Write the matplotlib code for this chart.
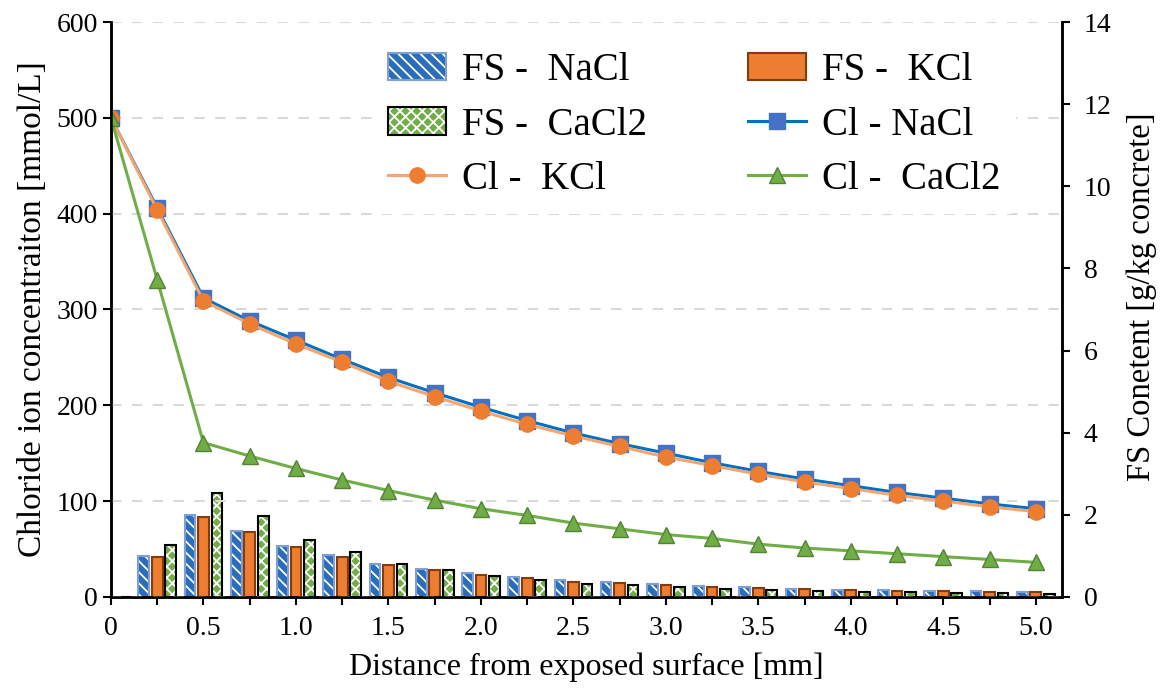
"""
Chloride ion profiles and FS content vs depth
"""

import numpy as np
import matplotlib
matplotlib.use("Agg")
import matplotlib.pyplot as plt
from matplotlib.legend_handler import HandlerTuple

plt.rcParams['font.family'] = ['Liberation Serif', 'DejaVu Serif']
plt.rcParams['hatch.linewidth'] = 1.3

# depth [mm]
depth = [0, 0.25, 0.5, 0.75, 1.0, 1.25, 1.5, 1.75, 2.0, 2.25, 2.5,
         2.75, 3.0, 3.25, 3.5, 3.75, 4.0, 4.25, 4.5, 4.75, 5.0]

# chloride ion concentration [mmol/L]
cl_nacl = [500, 406, 312, 288, 268, 248, 229, 213, 198, 184, 171,
           160, 150, 140, 131, 123, 116, 109, 103, 97, 92]
cl_kcl = [500, 404, 309, 285, 264, 245, 225, 209, 194, 180, 168,
          157, 146, 137, 128, 120, 113, 106, 100, 94, 89]
cl_cacl2 = [500, 331, 161, 147, 134, 122, 111, 101, 92, 85, 77,
            71, 65, 61, 55, 51, 48, 45, 42, 39, 36]

# FS content [g/kg concrete]
fs_nacl = [0, 1.00, 2.00, 1.61, 1.24, 1.02, 0.80, 0.68, 0.58, 0.48, 0.40,
           0.35, 0.31, 0.27, 0.23, 0.19, 0.17, 0.16, 0.15, 0.14, 0.13]
fs_kcl = [0, 0.98, 1.94, 1.58, 1.21, 0.98, 0.78, 0.66, 0.54, 0.45, 0.37,
          0.33, 0.28, 0.24, 0.21, 0.19, 0.16, 0.15, 0.14, 0.13, 0.12]
fs_cacl2 = [0, 1.27, 2.52, 1.96, 1.39, 1.10, 0.80, 0.66, 0.51, 0.41, 0.32,
            0.28, 0.23, 0.19, 0.17, 0.15, 0.12, 0.11, 0.10, 0.09, 0.08]

x_labels = ["0", "0.5", "1.0", "1.5", "2.0", "2.5", "3.0", "3.5", "4.0", "4.5", "5.0"]

x = np.array(depth)
bw = 0.058
off = 0.073

fig = plt.figure(figsize=(11.68, 6.9), dpi=100)
ax = fig.add_axes([0.095, 0.135, 0.814, 0.833])
ax2 = ax.twinx()

# bars (secondary axis)
b1 = ax2.bar(x - off, fs_nacl, bw, color='#2A6EBB', edgecolor='white',
             hatch='\\\\\\', linewidth=0)
b1o = ax2.bar(x - off, fs_nacl, bw, fill=False, edgecolor='#7F9FD5', linewidth=1.5)
b2 = ax2.bar(x, fs_kcl, bw, color='#ED7D31', edgecolor='#843C0C', linewidth=1.5)
b3 = ax2.bar(x + off, fs_cacl2, bw, color='#70AD47', edgecolor='white',
             hatch='xxx', linewidth=0)
b3o = ax2.bar(x + off, fs_cacl2, bw, fill=False, edgecolor='black', linewidth=1.5)

# lines (primary axis, on top)
ax.set_zorder(ax2.get_zorder() + 1)
ax.patch.set_visible(False)
l1, = ax.plot(x, cl_nacl, '-', color='#0070C0', lw=2.2, marker='s', ms=12,
              mfc='#4472C4', mec='#4472C4')
l2, = ax.plot(x, cl_kcl, '-', color='#F4A672', lw=2.2, marker='o', ms=11,
              mfc='#ED7D31', mec='#ED7D31')
l3, = ax.plot(x, cl_cacl2, '-', color='#70AD47', lw=2.2, marker='^', ms=11,
              mfc='#70AD47', mec='#548235')

ax.set_xlim(0, 5.14)
ax.set_ylim(0, 600)
ax2.set_ylim(0, 14)
ax.set_yticks(range(0, 601, 100))
ax2.set_yticks(range(0, 15, 2))
ax.set_xticks(x)
ax.set_xticklabels([x_labels[i // 2] if i % 2 == 0 else "" for i in range(len(depth))])

ax.yaxis.grid(True, color='#D9D9D9', ls=(0, (5, 5)), lw=1.5)
ax.set_axisbelow(True)

for a in (ax, ax2):
    a.tick_params(direction='out', length=6, width=1.5, labelsize=20, colors='black')
    a.spines['top'].set_visible(False)
    for s in ('left', 'right', 'bottom'):
        a.spines[s].set_linewidth(1.8)
ax.tick_params(axis='x', pad=8)
ax2.tick_params(axis='y', pad=10)

ax.set_xlabel("Distance from exposed surface [mm]", fontsize=23, labelpad=8)
ax.set_ylabel("Chloride ion concentraiton [mmol/L]", fontsize=24, labelpad=6)
ax2.set_ylabel("FS Conetent [g/kg concrete]", fontsize=23.5)
ax2.yaxis.set_label_coords(1.068, 0.522)

handles = [(b1[0], b1o[0]), (b3[0], b3o[0]), l2, b2[0], l1, l3]
labels = ["FS -  NaCl", "FS -  CaCl2", "Cl -  KCl", "FS -  KCl", "Cl - NaCl", "Cl -  CaCl2"]
leg = ax.legend(handles, labels, ncol=2, loc='upper left', bbox_to_anchor=(0.275, 0.975),
                fontsize=28, frameon=True, facecolor='white', edgecolor='none',
                framealpha=1, handlelength=1.5, handletextpad=0.4, columnspacing=2.6,
                labelspacing=0.45, borderaxespad=0,
                handler_map={tuple: HandlerTuple(ndivide=1, pad=0)})

fig.savefig("out.png", dpi=100)
plt.close(fig)
